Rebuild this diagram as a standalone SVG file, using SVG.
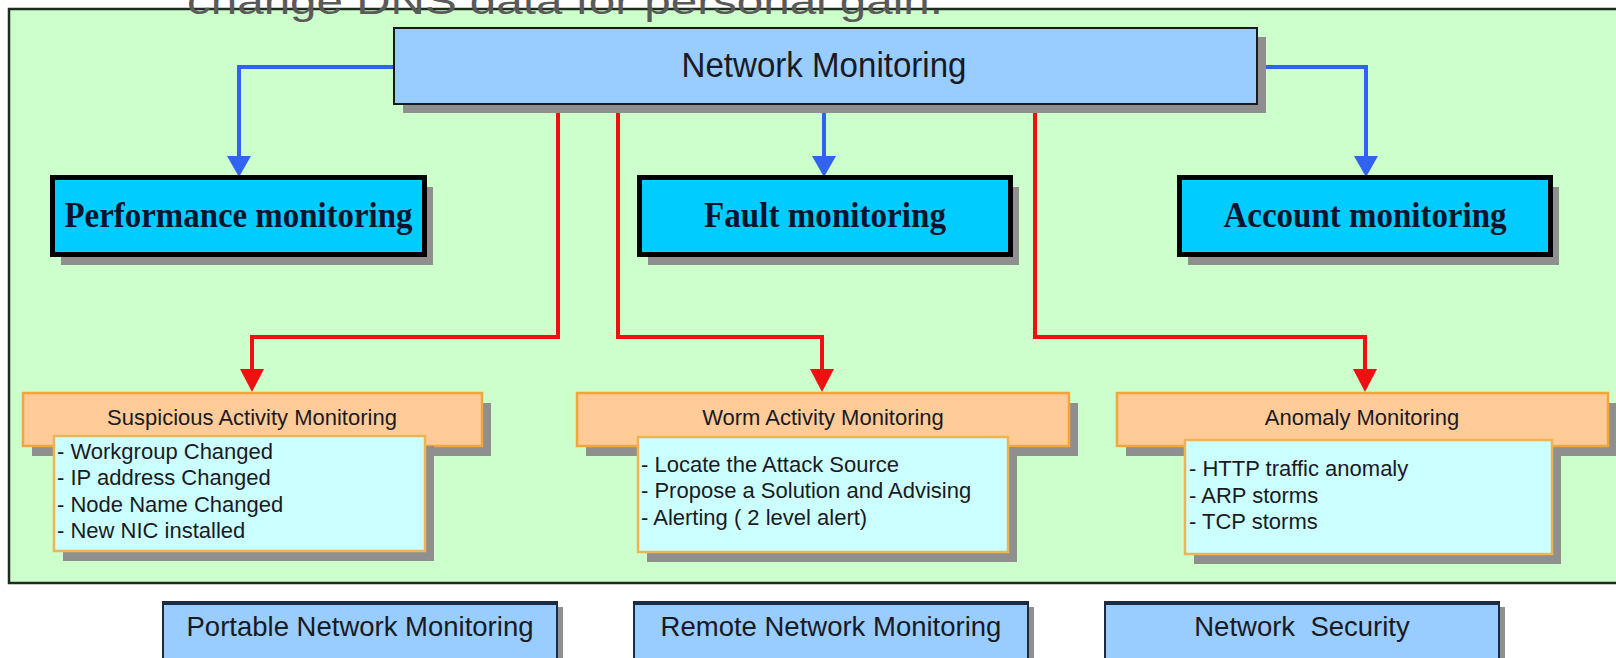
<svg xmlns="http://www.w3.org/2000/svg" width="1616" height="658" viewBox="0 0 1616 658">
  <defs>
    <style>
      .panel { fill: #ccffcc; stroke: #1e2e1e; stroke-width: 2.5; }
      .shadow { fill: #8f8f8f; }
      .root { fill: #99ccff; stroke: #1a1a1a; stroke-width: 2; }
      .cat { fill: #00ccff; stroke: #000000; stroke-width: 5; }
      .sec { fill: #ffcc99; stroke: #f2a63a; stroke-width: 2.5; }
      .list { fill: #ccffff; stroke: #efb451; stroke-width: 2.5; }
      .tool { fill: #99ccff; stroke: #1c2a44; stroke-width: 2; }
      .tool-top { stroke: #1c2a44; stroke-width: 4; }
      .sans { font-family: "Liberation Sans", Arial, sans-serif; fill: #1a1a22; }
      .serif-b { font-family: "Liberation Serif", "Times New Roman", serif; font-weight: bold; fill: #06142e; }
      .blue { fill: none; stroke: #3162f0; stroke-width: 4; }
      .red { fill: none; stroke: #ee1111; stroke-width: 4; }
    </style>
    <marker id="arrow-blue" markerUnits="userSpaceOnUse" viewBox="0 -13 22 26" refX="0" refY="0" markerWidth="22" markerHeight="26" orient="auto">
      <path d="M0,-12 L21,0 L0,12 z" fill="#3162f0"/>
    </marker>
    <marker id="arrow-red" markerUnits="userSpaceOnUse" viewBox="0 -13 24 26" refX="0" refY="0" markerWidth="24" markerHeight="26" orient="auto">
      <path d="M0,-12 L23,0 L0,12 z" fill="#ee1111"/>
    </marker>
  </defs>

  <rect width="1616" height="658" fill="#ffffff"/>

  <!-- background panel holding the monitoring tree -->
  <rect class="panel" x="9" y="9" width="1625" height="574"/>

  <!-- caption fragment along the top edge -->
  <text x="187" y="14" font-family="'Liberation Sans', Arial, sans-serif" font-size="36" fill="#5a5a5a" textLength="756" lengthAdjust="spacingAndGlyphs">change DNS data for personal gain.</text>

  <!-- connectors -->
  <g id="connectors">
    <path class="blue" d="M394,67 H239 V156" marker-end="url(#arrow-blue)"/>
    <path class="blue" d="M824,104 V156" marker-end="url(#arrow-blue)"/>
    <path class="blue" d="M1257,67 H1366 V156" marker-end="url(#arrow-blue)"/>
    <path class="red" d="M558,104 V337 H252 V369" marker-end="url(#arrow-red)"/>
    <path class="red" d="M618,104 V337 H822 V369" marker-end="url(#arrow-red)"/>
    <path class="red" d="M1035,104 V337 H1365 V369" marker-end="url(#arrow-red)"/>
  </g>

  <!-- root -->
  <g id="network-monitoring">
    <rect class="shadow" x="403" y="37" width="863" height="76"/>
    <rect class="root" x="394" y="28" width="863" height="76"/>
    <text class="sans" x="824" y="77" font-size="35" text-anchor="middle" textLength="285" lengthAdjust="spacingAndGlyphs">Network Monitoring</text>
  </g>

  <!-- monitoring categories -->
  <g id="performance-monitoring">
    <rect class="shadow" x="61" y="187" width="372" height="78"/>
    <rect class="cat" x="52.5" y="177.5" width="372" height="77"/>
    <text class="serif-b" x="238.5" y="227" font-size="36" text-anchor="middle" textLength="348" lengthAdjust="spacingAndGlyphs">Performance monitoring</text>
  </g>
  <g id="fault-monitoring">
    <rect class="shadow" x="648" y="187" width="371" height="78"/>
    <rect class="cat" x="639.5" y="177.5" width="371" height="77"/>
    <text class="serif-b" x="825" y="227" font-size="36" text-anchor="middle" textLength="242" lengthAdjust="spacingAndGlyphs">Fault monitoring</text>
  </g>
  <g id="account-monitoring">
    <rect class="shadow" x="1188" y="187" width="371" height="78"/>
    <rect class="cat" x="1179.5" y="177.5" width="371" height="77"/>
    <text class="serif-b" x="1365" y="227" font-size="36" text-anchor="middle" textLength="283" lengthAdjust="spacingAndGlyphs">Account monitoring</text>
  </g>

  <!-- security monitoring sections -->
  <g id="suspicious-activity">
    <rect class="shadow" x="32" y="403" width="459" height="53"/>
    <rect class="sec" x="23" y="393" width="459" height="53"/>
    <text class="sans" x="252" y="425" font-size="22" text-anchor="middle">Suspicious Activity Monitoring</text>
    <rect class="shadow" x="63" y="446" width="371" height="115"/>
    <rect class="list" x="54" y="436" width="371" height="115"/>
    <text class="sans" font-size="22">
      <tspan x="57" y="459">- Workgroup Changed</tspan>
      <tspan x="57" y="485">- IP address Changed</tspan>
      <tspan x="57" y="512">- Node Name Changed</tspan>
      <tspan x="57" y="538">- New NIC installed</tspan>
    </text>
  </g>
  <g id="worm-activity">
    <rect class="shadow" x="586" y="403" width="492" height="53"/>
    <rect class="sec" x="577" y="393" width="492" height="53"/>
    <text class="sans" x="823" y="425" font-size="22" text-anchor="middle">Worm Activity Monitoring</text>
    <rect class="shadow" x="647" y="447" width="370" height="115"/>
    <rect class="list" x="638" y="437" width="370" height="115"/>
    <text class="sans" font-size="22">
      <tspan x="641" y="472">- Locate the Attack Source</tspan>
      <tspan x="641" y="498">- Propose a Solution and Advising</tspan>
      <tspan x="641" y="525">- Alerting ( 2 level alert)</tspan>
    </text>
  </g>
  <g id="anomaly">
    <rect class="shadow" x="1126" y="403" width="491" height="53"/>
    <rect class="sec" x="1117" y="393" width="491" height="53"/>
    <text class="sans" x="1362" y="425" font-size="22" text-anchor="middle">Anomaly Monitoring</text>
    <rect class="shadow" x="1194" y="450" width="367" height="114"/>
    <rect class="list" x="1185" y="440" width="367" height="114"/>
    <text class="sans" font-size="22">
      <tspan x="1189" y="476">- HTTP traffic anomaly</tspan>
      <tspan x="1189" y="503">- ARP storms</tspan>
      <tspan x="1189" y="529">- TCP storms</tspan>
    </text>
  </g>

  <!-- related tools along the bottom -->
  <g id="portable-network-monitoring">
    <rect class="shadow" x="169" y="607" width="394" height="70"/>
    <rect class="tool" x="163" y="602" width="394" height="70"/>
    <line class="tool-top" x1="163" y1="603" x2="557" y2="603"/>
    <text class="sans" x="360" y="636" font-size="27.5" text-anchor="middle">Portable Network Monitoring</text>
  </g>
  <g id="remote-network-monitoring">
    <rect class="shadow" x="640" y="607" width="394" height="70"/>
    <rect class="tool" x="634" y="602" width="394" height="70"/>
    <line class="tool-top" x1="634" y1="603" x2="1028" y2="603"/>
    <text class="sans" x="831" y="636" font-size="27.5" text-anchor="middle">Remote Network Monitoring</text>
  </g>
  <g id="network-security">
    <rect class="shadow" x="1111" y="607" width="394" height="70"/>
    <rect class="tool" x="1105" y="602" width="394" height="70"/>
    <line class="tool-top" x1="1105" y1="603" x2="1499" y2="603"/>
    <text class="sans" x="1302" y="636" font-size="27.5" text-anchor="middle" xml:space="preserve">Network  Security</text>
  </g>
</svg>
